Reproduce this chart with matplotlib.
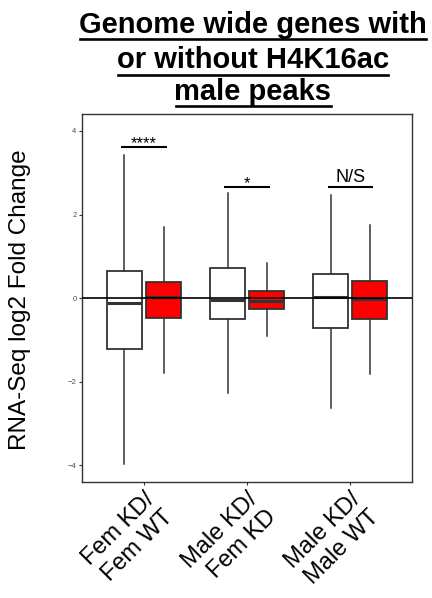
import matplotlib
matplotlib.use('Agg')
import matplotlib.pyplot as plt
from matplotlib.lines import Line2D

plt.rcParams['font.family'] = ['Liberation Sans', 'DejaVu Sans']

# comparisons along the x axis
groups = ['Fem KD/\nFem WT', 'Male KD/\nFem KD', 'Male KD/\nMale WT']

# box stats, genes without peaks (white)
no_peak_whislo = [-3.98, -2.27, -2.64]
no_peak_q1 = [-1.22, -0.49, -0.72]
no_peak_med = [-0.11, -0.04, 0.02]
no_peak_q3 = [0.66, 0.71, 0.57]
no_peak_whishi = [3.43, 2.51, 2.47]

# box stats, genes with male peaks (red)
peak_whislo = [-1.79, -0.91, -1.81]
peak_q1 = [-0.47, -0.26, -0.49]
peak_med = [0.02, -0.07, -0.02]
peak_q3 = [0.39, 0.17, 0.42]
peak_whishi = [1.71, 0.84, 1.75]

# significance brackets
sig_labels = ['****', '*', 'N/S']
sig_y = [3.61, 2.67, 2.67]

title_lines = ['Genome wide genes with', 'or without H4K16ac', 'male peaks']


def make_stats(lo, q1, med, q3, hi):
    return [dict(whislo=a, q1=b, med=c, q3=d, whishi=e, fliers=[])
            for a, b, c, d, e in zip(lo, q1, med, q3, hi)]


fig = plt.figure(figsize=(4.32, 5.98), dpi=100)
ax = fig.add_axes([0.19, 0.194, 0.764, 0.615])

centers = [1, 2, 3]
edge = '#333333'
box_kw = dict(showcaps=False, showfliers=False, widths=0.34, patch_artist=True,
              whiskerprops=dict(color=edge, lw=1.1),
              medianprops=dict(color=edge, lw=2.2))

ax.bxp(make_stats(no_peak_whislo, no_peak_q1, no_peak_med, no_peak_q3, no_peak_whishi),
       positions=[c - 0.19 for c in centers],
       boxprops=dict(facecolor='white', edgecolor=edge, lw=1.3), **box_kw)
ax.bxp(make_stats(peak_whislo, peak_q1, peak_med, peak_q3, peak_whishi),
       positions=[c + 0.19 for c in centers],
       boxprops=dict(facecolor='#FF0000', edgecolor=edge, lw=1.3), **box_kw)

ax.axhline(0, color='black', lw=1.2, zorder=5)

# significance bars
for c, lab, y in zip(centers, sig_labels, sig_y):
    ax.plot([c - 0.22, c + 0.22], [y, y], color='black', lw=1.5, solid_capstyle='butt')
    if lab == 'N/S':
        ax.annotate(lab, xy=(c, y), xytext=(0, 3), textcoords='offset points',
                    ha='center', va='baseline', fontsize=13)
    else:
        ax.annotate(lab, xy=(c, y), xytext=(0, -0.8), textcoords='offset points',
                    ha='center', va='baseline', fontsize=12)

ax.set_xlim(0.4, 3.6)
ax.set_ylim(-4.4, 4.4)
ax.set_yticks([-4, -2, 0, 2, 4])
ax.set_yticklabels(['\u22124', '\u22122', '0', '2', '4'])
ax.set_xticks(centers)
ax.set_xticklabels(groups, rotation=45, ha='right', rotation_mode='anchor',
                   multialignment='right', fontsize=17, color='black')
ax.tick_params(axis='y', labelsize=5.5, labelcolor='#4D4D4D', color=edge,
               length=2.5, width=0.8, pad=1.5)
ax.tick_params(axis='x', color=edge, length=2.5, width=0.8, pad=2)
for s in ax.spines.values():
    s.set_color(edge)
    s.set_linewidth(1.0)

fig.text(20 / 432, 1 - 300 / 598, 'RNA-Seq log2 Fold Change', rotation=90,
         ha='center', va='center', fontsize=17.5)

# title, underlined line by line
renderer = fig.canvas.get_renderer()
baselines = [33, 68.5, 100.5]
for line, yb in zip(title_lines, baselines):
    t = fig.text(253 / 432, 1 - yb / 598, line, ha='center', va='baseline',
                 fontsize=21, fontweight='bold')
    bb = t.get_window_extent(renderer)
    x0, x1 = (bb.x0 + 1) / 432, (bb.x1 - 1) / 432
    yu = 1 - (yb + 6) / 598
    fig.add_artist(Line2D([x0, x1], [yu, yu], color='black', lw=1.9,
                          transform=fig.transFigure))

fig.savefig('out.png', dpi=100)
